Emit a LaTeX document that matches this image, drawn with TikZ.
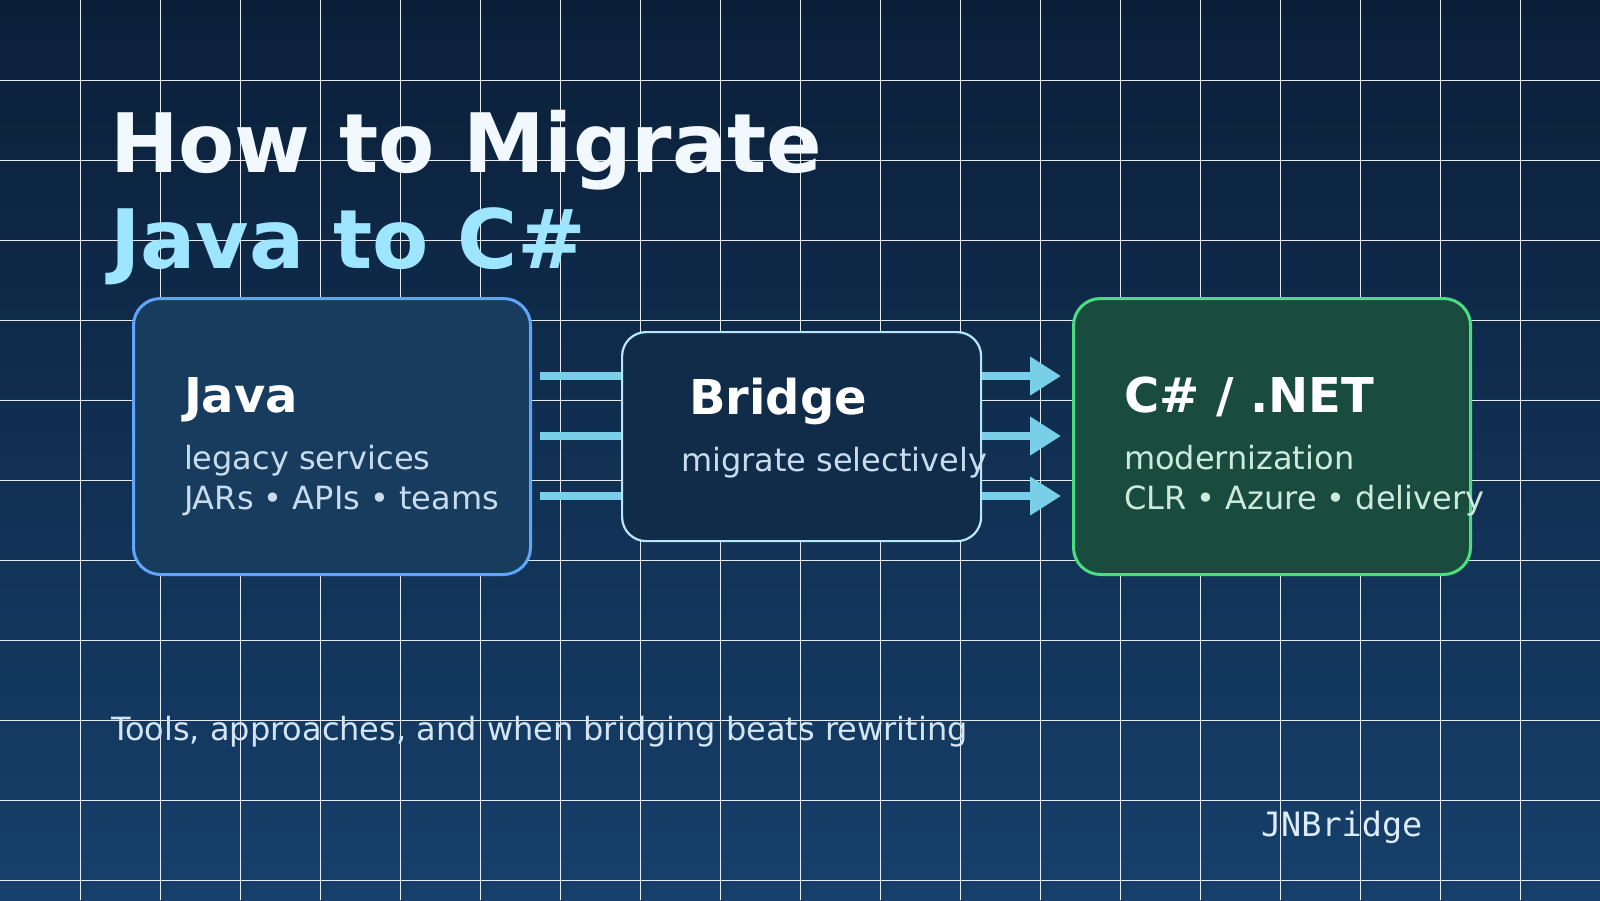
\documentclass[tikz,border=0pt]{standalone}
\usepackage{fontspec}
\setmainfont{DejaVu Sans}
\newfontfamily\jnmono{DejaVu Sans Mono}
\usetikzlibrary{arrows.meta}
\definecolor{bgtop}{HTML}{0B1F38}
\definecolor{bgbot}{HTML}{16406B}
\definecolor{javafill}{HTML}{183C5E}
\definecolor{javastroke}{HTML}{60A5FA}
\definecolor{bridgefill}{HTML}{112C48}
\definecolor{bridgestroke}{HTML}{BAE6FD}
\definecolor{netfill}{HTML}{1A4B3F}
\definecolor{netstroke}{HTML}{4ADE80}
\definecolor{titlewhite}{HTML}{F1F8FE}
\definecolor{titlecyan}{HTML}{9EE6FF}
\definecolor{subblue}{HTML}{C8DCEE}
\definecolor{subgreen}{HTML}{CDEBDC}
\definecolor{tagcol}{HTML}{D3E4F3}
\definecolor{monocol}{HTML}{DCECFB}
\definecolor{arrowcol}{HTML}{78CFE7}
\tikzset{
  gridline/.style={draw=white, line width=1pt, draw opacity=0.9},
  panel/.style={rounded corners=27pt, line width=3pt, minimum width=397pt, minimum height=276pt, anchor=north west, inner sep=0pt},
  bridgebox/.style={rounded corners=24pt, line width=2.2pt, minimum width=359pt, minimum height=209pt, anchor=north west, inner sep=0pt, draw=bridgestroke, fill=bridgefill},
  txt/.style={anchor=base west, inner sep=0pt, outer sep=0pt},
  bigtitle/.style={txt, font=\fontsize{82}{90}\selectfont\bfseries},
  boxtitle/.style={txt, font=\fontsize{48}{54}\selectfont\bfseries, text=white},
  boxsub/.style={txt, font=\fontsize{32}{38}\selectfont},
  feed/.style={line width=7.5pt, draw=arrowcol},
  flow/.style={line width=7.5pt, draw=arrowcol, -{Triangle[length=31pt,width=37pt]}, arrowcol}
}
\begin{document}
\begin{tikzpicture}[x=1pt,y=-1pt]
\useasboundingbox (0,0) rectangle (1600,900);
\shade[top color=bgtop, bottom color=bgbot] (0,0) rectangle (1600,900);
\foreach \gx in {80,160,...,1520} \draw[gridline] (\gx,0) -- (\gx,900);
\foreach \gy in {80,160,...,880} \draw[gridline] (0,\gy) -- (1600,\gy);

% title
\node[bigtitle, text=titlewhite] (t1) at (110,172) {How to Migrate};
\node[bigtitle, text=titlecyan] (t2) at (110,268) {Java to C\#};

% boxes
\node[panel, draw=javastroke, fill=javafill] (java) at (132,297) {};
\node[bridgebox] (bridge) at (621,331) {};
\node[panel, draw=netstroke, fill=netfill] (net) at (1072,297) {};

% box texts
\node[boxtitle] (javat) at (184,412) {Java};
\node[boxsub, text=subblue] (javas1) at (184,469) {legacy services};
\node[boxsub, text=subblue] (javas2) at (184,509) {JARs • APIs • teams};

\node[boxtitle] (bridget) at (689,414) {Bridge};
\node[boxsub, text=subblue] (bridges) at (681,471) {migrate selectively};

\node[boxtitle] (nett) at (1124,412) {C\# / .NET};
\node[boxsub, text=subgreen] (nets1) at (1124,469) {modernization};
\node[boxsub, text=subgreen] (nets2) at (1124,509) {CLR • Azure • delivery};

% feeds into bridge
\coordinate (f1) at (540,376);
\coordinate (f2) at (540,436);
\coordinate (f3) at (540,496);
\draw[feed] (f1) -- (f1 -| bridge.west);
\draw[feed] (f2) -- (f2 -| bridge.west);
\draw[feed] (f3) -- (f3 -| bridge.west);

% arrows out of bridge
\coordinate (a1) at (1061,376);
\coordinate (a2) at (1061,436);
\coordinate (a3) at (1061,496);
\draw[flow] (a1 -| bridge.east) -- (a1);
\draw[flow] (a2 -| bridge.east) -- (a2);
\draw[flow] (a3 -| bridge.east) -- (a3);

% footer
\node[txt, font=\fontsize{32}{38}\selectfont, text=tagcol] (tag) at (111,740) {Tools, approaches, and when bridging beats rewriting};
\node[txt, font=\jnmono\fontsize{33.5}{40}\selectfont, text=monocol] (brand) at (1261,836) {JNBridge};
\end{tikzpicture}
\end{document}
